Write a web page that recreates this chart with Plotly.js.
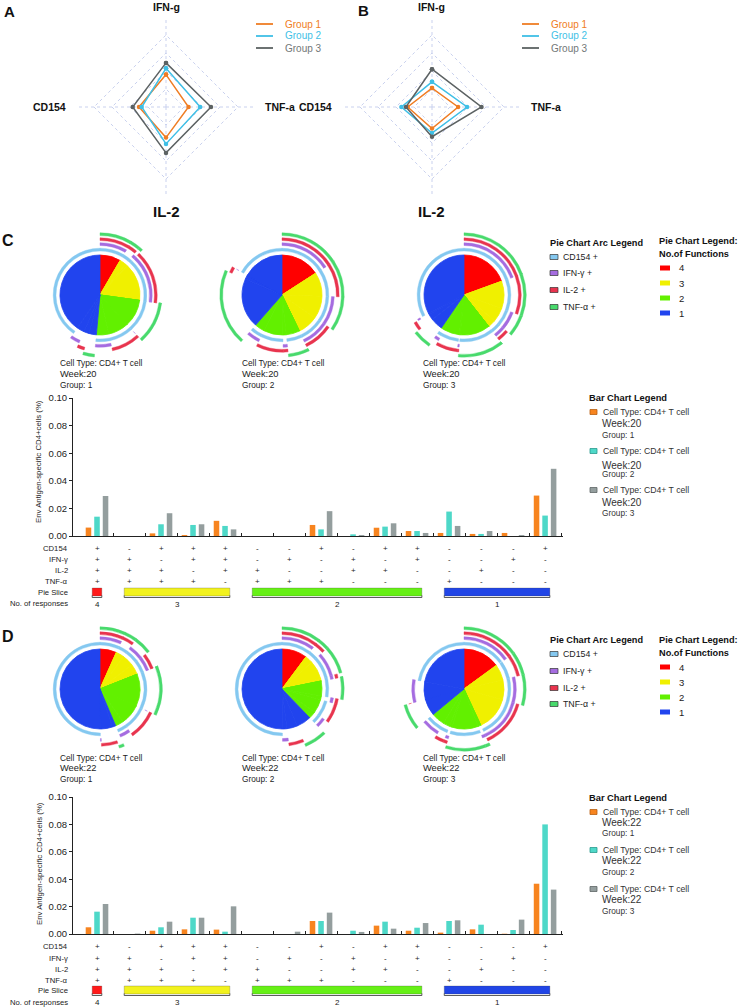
<!DOCTYPE html>
<html><head><meta charset="utf-8">
<script src="https://cdn.plot.ly/plotly-3.0.1.min.js"></script>
<style>html,body{margin:0;padding:0;background:#fff;}#chart{width:741px;height:1008px;}</style>
</head><body><div id="chart"></div>
<script>
// ---------------- DATA ----------------
const radarAxes = ['IFN-g', 'TNF-a', 'IL-2', 'CD154'];
const groupNames = ['Group 1', 'Group 2', 'Group 3'];
const radarA_group1 = [0.36, 0.25, 0.34, 0.30];
const radarA_group2 = [0.43, 0.38, 0.41, 0.27];
const radarA_group3 = [0.49, 0.50, 0.51, 0.37];
const radarB_group1 = [0.21, 0.29, 0.24, 0.27];
const radarB_group2 = [0.28, 0.39, 0.29, 0.34];
const radarB_group3 = [0.42, 0.55, 0.33, 0.29];

// subset membership (bar chart columns / pie slices)
const cd154 = ['+','-','+','+','+','-','-','+','-','+','+','-','-','-','+'];
const ifng  = ['+','+','-','+','+','-','+','-','+','-','+','-','-','+','-'];
const il2   = ['+','+','+','-','+','+','-','-','+','+','-','-','+','-','-'];
const tnfa  = ['+','+','+','+','-','+','+','+','-','-','-','+','-','-','-'];
const rowLabels = ['CD154', 'IFN-γ', 'IL-2', 'TNF-α', 'Pie Slice', 'No. of responses'];

const week20_group1 = [0.0061, 0, 0.0019, 0.0007, 0.0110, 0, 0, 0.0080, 0, 0.0060, 0.0036, 0.0022, 0.0015, 0.0022, 0.0293];
const week20_group2 = [0.0140, 0, 0.0085, 0.0080, 0.0073, 0, 0, 0.0048, 0.0012, 0.0068, 0.0036, 0.0177, 0.0015, 0, 0.0148];
const week20_group3 = [0.0290, 0, 0.0165, 0.0085, 0.0048, 0, 0, 0.0180, 0.0007, 0.0092, 0.0022, 0.0073, 0.0036, 0.0007, 0.0487];
const week22_group1 = [0.0049, 0, 0.0024, 0.0034, 0.0032, 0, 0, 0.0095, 0, 0.0061, 0.0024, 0.0010, 0.0034, 0.0002, 0.0367];
const week22_group2 = [0.0163, 0, 0.0049, 0.0119, 0.0017, 0, 0, 0.0095, 0.0024, 0.0090, 0.0046, 0.0095, 0.0068, 0.0029, 0.0800];
const week22_group3 = [0.0219, 0.0003, 0.0090, 0.0119, 0.0202, 0, 0.0017, 0.0156, 0.0015, 0.0039, 0.0080, 0.0100, 0, 0.0105, 0.0324];
const yTicks = [0, 0.02, 0.04, 0.06, 0.08, 0.10];

const arcNames = ['CD154 +', 'IFN-γ +', 'IL-2 +', 'TNF-α +'];
const funcLevels = [4, 3, 2, 1];

// ---------------- STYLE ----------------
const FONT = 'Liberation Sans, Arial, Helvetica, sans-serif';
const W = 741, H = 1008;
const px = v => v / W;
const py = v => 1 - v / H;
const radarColors = ['#EF7D24', '#3FBFE6', '#5C6263'];
const radarTextColors = ['#EF7D24', '#3FBFE6', '#737878'];
const barColors = ['#F7841F', '#4ED8C8', '#949E9E'];
const barEdge = ['#B85E10', '#2A9A8E', '#5E6666'];
const fnColors = {4: '#FF0000', 3: '#F0F000', 2: '#62F000', 1: '#2144EE'};
const sliceColors = {4: '#FF1A1A', 3: '#F2F21E', 2: '#66F016', 1: '#2145E6'};
const arcSigns = [cd154, ifng, il2, tnfa];
const arcColors = ['#84C8F0', '#A56CE0', '#E8344E', '#48DA6C'];
const ringOuter = [46.8, 52.3, 57.2, 62.2];
const ringThick = 2.8;
const gridCol = '#C9D1EE';

const subsets = cd154.map((_, i) => 'CD154' + cd154[i] + ' IFN-γ' + ifng[i] + ' IL-2' + il2[i] + ' TNF-α' + tnfa[i]);
const idx = subsets.map((_, i) => i);
const funcCount = idx.map(i => arcSigns.filter(a => a[i] === '+').length);

const traces = [];
const annotations = [];
const shapes = [];

function ann(x, y, text, o) {
  const a = {x: px(x), y: py(y), xref: 'paper', yref: 'paper', text: text, showarrow: false,
    xanchor: 'left', yanchor: 'middle', font: {family: FONT, size: 8, color: '#222'}};
  return Object.assign(a, o || {});
}
function rectPx(x0, y0, x1, y1, fill, line) {
  return {type: 'rect', xref: 'paper', yref: 'paper', x0: px(x0), x1: px(x1), y0: py(y1), y1: py(y0),
    fillcolor: fill, line: line || {width: 0}};
}

// ---------------- RADARS ----------------
const radarSets = [
  {sub: 'polar', data: [radarA_group1, radarA_group2, radarA_group3], cx: 166, cy: 107},
  {sub: 'polar2', data: [radarB_group1, radarB_group2, radarB_group3], cx: 432, cy: 107}
];
radarSets.forEach(rs => {
  rs.data.forEach((vals, g) => {
    traces.push({type: 'scatterpolar', subplot: rs.sub, r: vals.concat([vals[0]]),
      theta: radarAxes.concat([radarAxes[0]]), mode: 'lines+markers',
      line: {color: radarColors[g], width: 1.5}, marker: {color: radarColors[g], size: 4.5},
      showlegend: false, hoverinfo: 'skip'});
  });
  annotations.push(ann(rs.cx, 7, '<b>' + radarAxes[0] + '</b>', {xanchor: 'center', font: {family: FONT, size: 10.5, color: '#111'}}));
  annotations.push(ann(rs.cx + 97, rs.cy, '<b>' + radarAxes[1] + '</b>', {font: {family: FONT, size: 10.5, color: '#111'}}));
  annotations.push(ann(rs.cx, 211, '<b>' + radarAxes[2] + '</b>', {xanchor: 'center', font: {family: FONT, size: 15, color: '#111'}}));
  annotations.push(ann(rs.cx - 98, rs.cy, '<b>' + radarAxes[3] + '</b>', {xanchor: 'right', font: {family: FONT, size: 10.5, color: '#111'}}));
  groupNames.forEach((gname, g) => {
    const lx = rs.cx + 90, ly = 24 + 12 * g;
    shapes.push({type: 'line', xref: 'paper', yref: 'paper', x0: px(lx), x1: px(lx + 17), y0: py(ly), y1: py(ly),
      line: {color: radarColors[g], width: 1.8}});
    annotations.push(ann(lx + 27, ly, gname, {font: {family: FONT, size: 10, color: radarTextColors[g]}}));
  });
});
function polarLayout(cx, cy) {
  const R = 90;
  return {
    domain: {x: [px(cx - R), px(cx + R)], y: [py(cy + R), py(cy - R)]},
    gridshape: 'linear', bgcolor: 'rgba(0,0,0,0)',
    radialaxis: {range: [0, 1], tickvals: [0.2, 0.4, 0.6, 0.8, 1.0], showticklabels: false, ticks: '',
      showline: false, gridcolor: gridCol, griddash: 'dot', gridwidth: 1},
    angularaxis: {rotation: 90, direction: 'clockwise', showticklabels: false, ticks: '', showline: false,
      gridcolor: gridCol, griddash: 'dot', gridwidth: 1}
  };
}

annotations.push(ann(9, 12, '<b>A</b>', {xanchor: 'center', font: {family: FONT, size: 15, color: '#111'}}));
annotations.push(ann(363, 11, '<b>B</b>', {xanchor: 'center', font: {family: FONT, size: 15, color: '#111'}}));
annotations.push(ann(8, 240, '<b>C</b>', {xanchor: 'center', font: {family: FONT, size: 16, color: '#111'}}));
annotations.push(ann(8, 636, '<b>D</b>', {xanchor: 'center', font: {family: FONT, size: 16, color: '#111'}}));

// ---------------- PIES ----------------
function addPie(values, cx, cy) {
  const R = 40;
  const base = {type: 'pie', values: values, labels: subsets, sort: false, direction: 'clockwise', rotation: 0,
    textinfo: 'none', hoverinfo: 'skip', showlegend: false};
  const cols = funcCount.map(c => fnColors[c]);
  traces.push(Object.assign({}, base, {
    marker: {colors: cols, line: {color: cols, width: 0.8}},
    domain: {x: [px(cx - R), px(cx + R)], y: [py(cy + R), py(cy - R)]}
  }));
  arcSigns.forEach((signs, k) => {
    const Ro = ringOuter[k];
    const rc = signs.map(s => s === '+' ? arcColors[k] : 'rgba(0,0,0,0)');
    traces.push(Object.assign({}, base, {
      hole: (Ro - ringThick) / Ro,
      marker: {colors: rc, line: {color: rc, width: 0.4}},
      domain: {x: [px(cx - Ro), px(cx + Ro)], y: [py(cy + Ro), py(cy - Ro)]}
    }));
  });
}
const panels = [
  {week: '20', data: [week20_group1, week20_group2, week20_group3], pieY: 295, capY: [363, 374, 385],
   xa: 'x', ya: 'y', yDom: [536, 398], rows: [548, 559, 570, 581, 592, 603], sliceY: [588, 596], brY: 597.5, numY: 604,
   ytitleY: 462, arcLeg: {t: 243, rows: [257, 273, 290, 307]}, pieLeg: {t: [241, 254], rows: [268, 283, 298, 313]},
   barLeg: {t: 398, items: [[412, 423, 435], [451, 465, 474], [490, 502, 513]]}},
  {week: '22', data: [week22_group1, week22_group2, week22_group3], pieY: 689, capY: [758, 768, 779],
   xa: 'x2', ya: 'y2', yDom: [934, 797], rows: [946, 958, 969, 980, 990, 1002], sliceY: [986, 994], brY: 995.5, numY: 1002.5,
   ytitleY: 864, arcLeg: {t: 640, rows: [654, 671, 688, 704]}, pieLeg: {t: [640, 653], rows: [667, 682, 697, 712]},
   barLeg: {t: 798, items: [[812, 822, 833], [850, 860, 872], [889, 899, 911]]}}
];
const pieX = [100, 282, 464];
const capX = [58, 240, 421];

panels.forEach(p => {
  p.data.forEach((vals, g) => {
    addPie(vals, pieX[g], p.pieY);
    annotations.push(ann(capX[g], p.capY[0], 'Cell Type: CD4+ T cell', {font: {family: FONT, size: 8.3, color: '#222'}}));
    annotations.push(ann(capX[g], p.capY[1], 'Week:' + p.week, {font: {family: FONT, size: 9.3, color: '#222'}}));
    annotations.push(ann(capX[g], p.capY[2], groupNames[g].replace('Group ', 'Group: '), {font: {family: FONT, size: 8.3, color: '#222'}}));
    traces.push({type: 'bar', x: idx, y: vals, xaxis: p.xa, yaxis: p.ya, marker: {color: barColors[g], line: {width: 0}},
      showlegend: false, hoverinfo: 'skip'});
  });
  annotations.push(ann(39, p.ytitleY, 'Env Antigen-specific CD4+cells (%)',
    {xanchor: 'center', textangle: -90, font: {family: FONT, size: 7.8, color: '#222'}}));
  arcSigns.forEach((signs, k) => {
    signs.forEach((s, i) => {
      annotations.push({x: i, xref: p.xa, y: py(p.rows[k]), yref: 'paper', text: s, showarrow: false,
        xanchor: 'center', yanchor: 'middle', font: {family: FONT, size: 8, color: '#222'}});
    });
  });
  rowLabels.forEach((lab, r) => {
    annotations.push(ann(70, p.rows[r], lab, {xanchor: 'right', font: {family: FONT, size: 7.7, color: '#222'}}));
  });
  funcLevels.forEach(f => {
    const cols = idx.filter(i => funcCount[i] === f);
    const a = cols[0] - 0.15, b = cols[cols.length - 1] + 0.15;
    shapes.push({type: 'rect', xref: p.xa, yref: 'paper', x0: a, x1: b, y0: py(p.sliceY[1]), y1: py(p.sliceY[0]),
      fillcolor: sliceColors[f], line: {color: 'rgba(60,60,60,0.5)', width: 0.5}});
    shapes.push({type: 'path', xref: p.xa, yref: 'paper',
      path: 'M' + a + ',' + py(p.brY - 2) + ' L' + a + ',' + py(p.brY) + ' L' + b + ',' + py(p.brY) + ' L' + b + ',' + py(p.brY - 2),
      line: {color: '#333', width: 0.8}});
    annotations.push({x: (cols[0] + cols[cols.length - 1]) / 2, xref: p.xa, y: py(p.numY), yref: 'paper', text: String(f),
      showarrow: false, xanchor: 'center', yanchor: 'middle', font: {family: FONT, size: 8, color: '#222'}});
  });
  annotations.push(ann(548, p.arcLeg.t, '<b>Pie Chart Arc Legend</b>', {font: {family: FONT, size: 9.2, color: '#111'}}));
  arcNames.forEach((nm, k) => {
    const y = p.arcLeg.rows[k];
    shapes.push(rectPx(550, y - 2.5, 558, y + 2.5, arcColors[k], {color: '#333', width: 0.7}));
    annotations.push(ann(561, y, nm, {font: {family: FONT, size: 8.8, color: '#222'}}));
  });
  annotations.push(ann(657, p.pieLeg.t[0], '<b>Pie Chart Legend:</b>', {font: {family: FONT, size: 9.2, color: '#111'}}));
  annotations.push(ann(657, p.pieLeg.t[1], '<b>No.of Functions</b>', {font: {family: FONT, size: 9.2, color: '#111'}}));
  funcLevels.forEach((f, r) => {
    const y = p.pieLeg.rows[r];
    shapes.push(rectPx(660, y - 2.5, 670, y + 2.5, fnColors[f]));
    annotations.push(ann(677, y, String(f), {font: {family: FONT, size: 9.5, color: '#222'}}));
  });
  annotations.push(ann(587, p.barLeg.t, '<b>Bar Chart Legend</b>', {font: {family: FONT, size: 9.3, color: '#111'}}));
  p.barLeg.items.forEach((it, g) => {
    shapes.push(rectPx(590, it[0] - 2.5, 597, it[0] + 2.5, barColors[g], {color: barEdge[g], width: 0.8}));
    annotations.push(ann(600.5, it[0], 'Cell Type: CD4+ T cell', {font: {family: FONT, size: 8.7, color: '#333'}}));
    annotations.push(ann(600, it[1], 'Week:' + p.week, {font: {family: FONT, size: 10, color: '#333'}}));
    annotations.push(ann(600, it[2], groupNames[g].replace('Group ', 'Group: '), {font: {family: FONT, size: 8.3, color: '#333'}}));
  });
});

function xAxis(anchor) {
  return {domain: [px(73), px(563)], anchor: anchor, range: [-0.75, 14.56], tickvals: idx.map(i => i + 0.5),
    ticks: 'inside', ticklen: 3, tickcolor: '#222', tickwidth: 1, showticklabels: false, showline: true,
    linecolor: '#222', linewidth: 1, showgrid: false, zeroline: false, fixedrange: true};
}
function yAxis(anchor, dom) {
  return {domain: [py(dom[0]), py(dom[1])], anchor: anchor, range: [0, 0.1], tickvals: yTicks, tickformat: '.2f',
    ticks: 'outside', ticklen: 3, tickcolor: '#222', showline: true, linecolor: '#222', linewidth: 1,
    showgrid: false, zeroline: false, tickfont: {family: FONT, size: 9.5, color: '#222'}, fixedrange: true};
}

const layout = {
  width: W, height: H, margin: {l: 0, r: 0, t: 0, b: 0}, paper_bgcolor: '#fff', plot_bgcolor: 'rgba(0,0,0,0)',
  showlegend: false, font: {family: FONT, color: '#222'},
  barmode: 'group', bargap: 0.2, bargroupgap: 0.35,
  polar: polarLayout(166, 107),
  polar2: polarLayout(432, 107),
  xaxis: xAxis('y'), yaxis: yAxis('x', panels[0].yDom),
  xaxis2: xAxis('y2'), yaxis2: yAxis('x2', panels[1].yDom),
  annotations: annotations, shapes: shapes
};
Plotly.newPlot('chart', traces, layout, {staticPlot: true, displayModeBar: false});
</script></body></html>
